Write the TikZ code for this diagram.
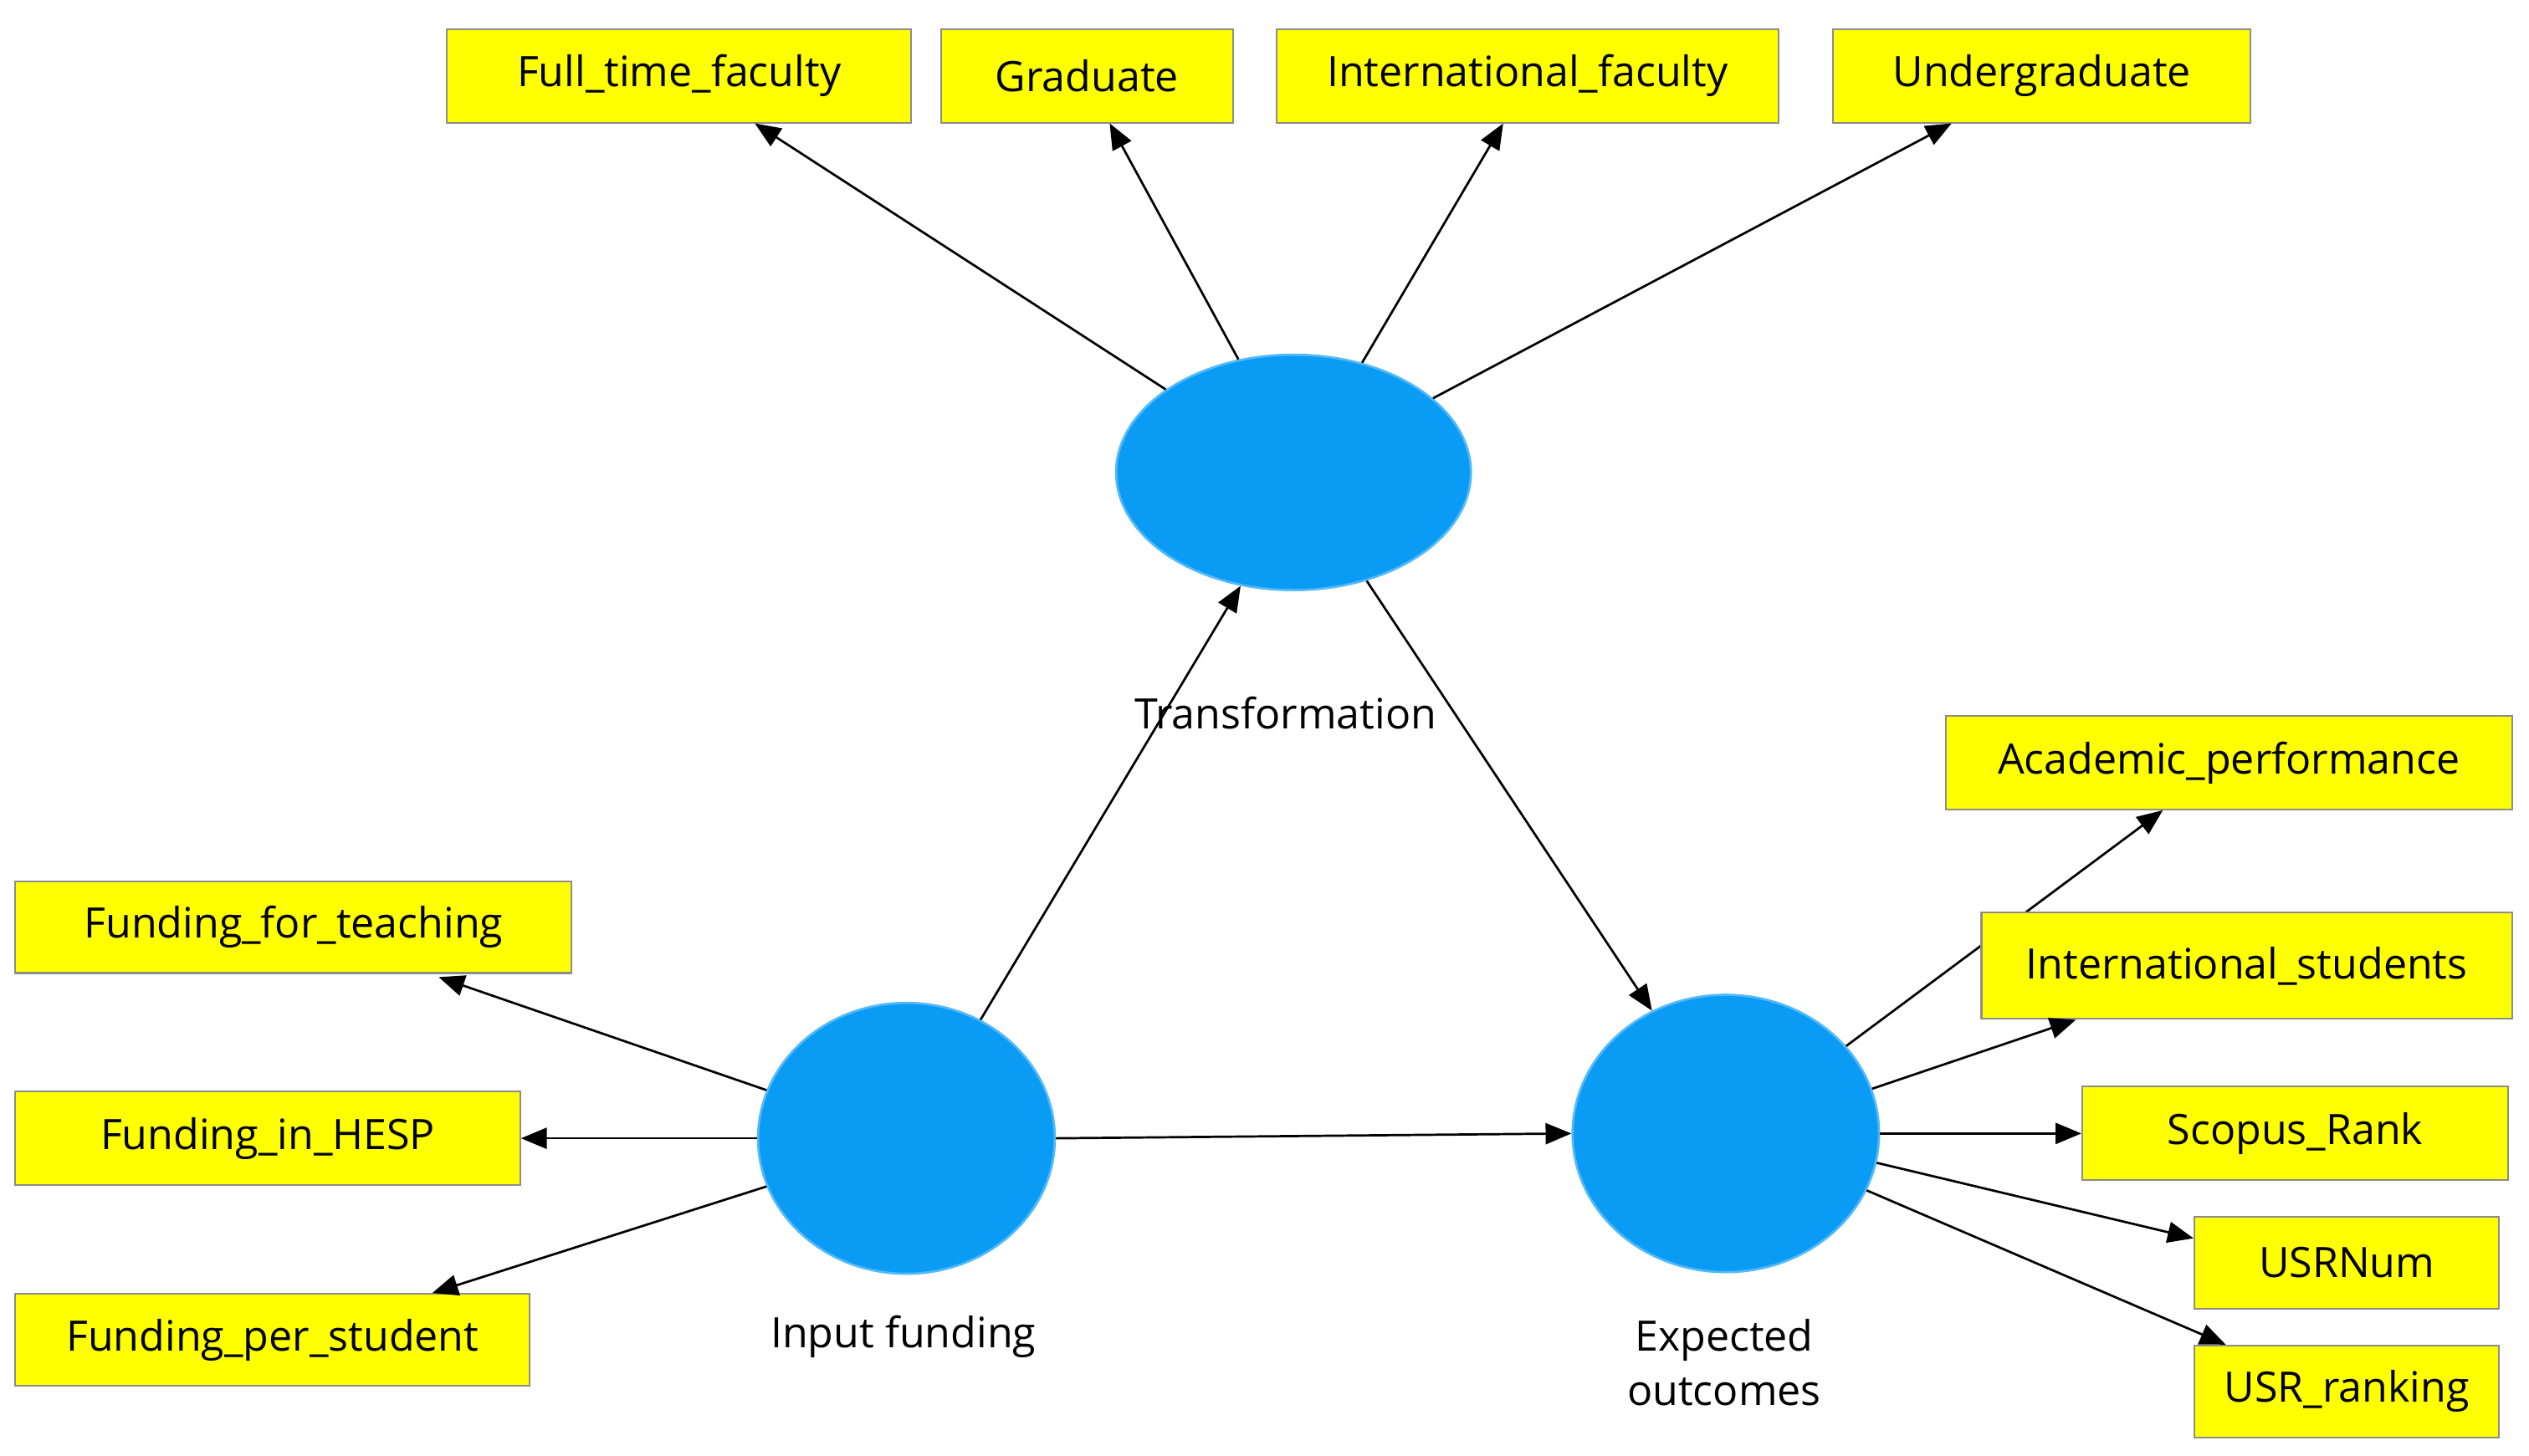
\documentclass[tikz,border=0pt]{standalone}
\usepackage{fontspec}
\setmainfont{Open Sans}
\usetikzlibrary{arrows.meta,calc,shapes.geometric}
\definecolor{lv}{HTML}{0A9BF5}
\definecolor{ind}{HTML}{FFFF00}
\begin{document}
\begin{tikzpicture}[x=0.1mm,y=-0.1mm,
  box/.style={draw=black!45,line width=0.3pt,fill=ind,inner sep=0pt,font=\fontsize{7.4}{9}\selectfont},
  lat/.style={ellipse,fill=lv,draw=lv!70,inner sep=0pt},
  lbl/.style={font=\fontsize{7.4}{9.5}\selectfont,align=center},
  arr/.style={-{Triangle[length=1.6mm,width=1.3mm]},line width=0.4pt}]
\useasboundingbox (0,0) rectangle (1568,903);
% latent
\node[lat,minimum width=22mm,minimum height=14.6mm] (T) at (802,293) {};
\node[lat,minimum width=18.4mm,minimum height=16.8mm] (I) at (562,706) {};
\node[lat,minimum width=19mm,minimum height=17.2mm] (E) at (1070,703) {};
% indicators
\node[box,minimum width=28.8mm,minimum height=5.8mm] (ft) at (421,47) {Full\_time\_faculty};
\node[box,minimum width=18.1mm,minimum height=5.8mm] (gr) at (674,47) {Graduate};
\node[box,minimum width=31.1mm,minimum height=5.8mm] (if) at (947,47) {International\_faculty};
\node[box,minimum width=25.9mm,minimum height=5.8mm] (ug) at (1266,47) {Undergraduate};
\node[box,minimum width=35.1mm,minimum height=5.8mm] (ac) at (1382,473) {Academic\_performance};
\node[box,minimum width=34.5mm,minimum height=5.7mm] (ft2) at (182,575) {Funding\_for\_teaching};
\node[box,minimum width=31.3mm,minimum height=5.8mm] (fh) at (166,706) {Funding\_in\_HESP};
\node[box,minimum width=31.9mm,minimum height=5.7mm] (fp) at (169,831) {Funding\_per\_student};
% arrows (drawn before overlapping box)
\draw[arr] (T.147.5) -- ($(ft.south)+(47,0)$);
\draw[arr] (T.116.6) -- ($(gr.south)+(14,0)$);
\draw[arr] (T.58.9) -- ($(if.south)+(-15,0)$);
\draw[arr] (T.28) -- ($(ug.south)+(-56,0)$);
\draw[arr] (T.-56.3) -- (E.121.6);
\draw[arr] (I.58.7) -- (T.-115);
\draw[arr] (I.0) -- (E.180);
\draw[arr] (I.161.6) -- ($(ft2.south)+(90,2)$);
\draw[arr] (I.180) -- (fh.east);
\draw[arr] (I.199) -- ($(fp.north)+(99,0)$);
\draw[arr] (E.36) -- ($(ac.south)+(-41,0)$);
\node[box,minimum width=32.9mm,minimum height=6.6mm] (is) at (1393,599) {International\_students};
\node[box,minimum width=26.4mm,minimum height=5.8mm] (sr) at (1423,703) {Scopus\_Rank};
\node[box,minimum width=18.9mm,minimum height=5.7mm] (un) at (1455,783) {USRNum};
\node[box,minimum width=18.9mm,minimum height=5.7mm] (ur) at (1455,863) {USR\_ranking};
\draw[arr] (E.17) -- ($(is.south)+(-106,0)$);
\draw[arr] (E.0) -- (sr.west);
\draw[arr] (E.-11.5) -- ($(un.west)+(0,-15)$);
\draw[arr] (E.-22.8) -- ($(ur.north)+(-75,0)$);
% labels
\node[lbl] (tl) at (797,442) {Transformation};
\node[lbl] (il) at (560,829) {Input funding};
\node[lbl] (el) at (1069,845) {Expected\\outcomes};
\end{tikzpicture}
\end{document}
